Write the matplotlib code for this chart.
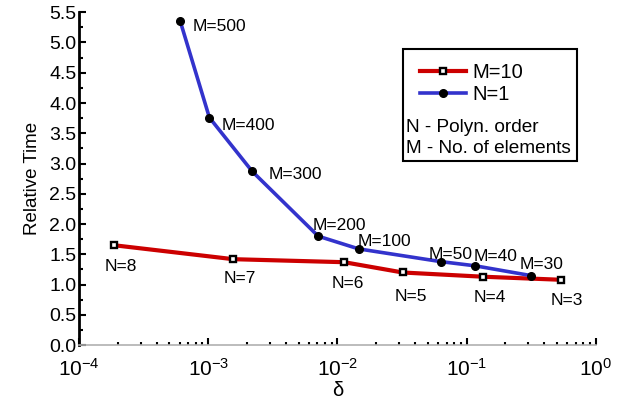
import numpy as np
import matplotlib.pyplot as plt
from matplotlib.patches import Rectangle
from matplotlib.ticker import LogLocator, MultipleLocator, NullFormatter

plt.rcParams['font.family'] = ['Liberation Sans', 'DejaVu Sans']
plt.rcParams['mathtext.fontset'] = 'custom'
plt.rcParams['mathtext.rm'] = 'Liberation Sans'
plt.rcParams['mathtext.it'] = 'Liberation Sans:italic'

# M=10 series, polynomial order N varies
delta_m10 = [1.87e-4, 1.56e-3, 1.13e-2, 3.2e-2, 0.135, 0.535]
time_m10 = [1.65, 1.42, 1.37, 1.20, 1.13, 1.08]
labels_m10 = ['N=8', 'N=7', 'N=6', 'N=5', 'N=4', 'N=3']

# N=1 series, number of elements M varies
delta_n1 = [6.07e-4, 1.02e-3, 2.19e-3, 7.1e-3, 1.46e-2, 6.3e-2, 0.117, 0.313]
time_n1 = [5.35, 3.76, 2.87, 1.80, 1.59, 1.38, 1.31, 1.15]
labels_n1 = ['M=500', 'M=400', 'M=300', 'M=200', 'M=100', 'M=50', 'M=40', 'M=30']

# label offsets in points (dx, dy)
off_m10 = [(-7, -15), (-7, -14), (-9, -15), (-6, -17), (-7, -15), (-7, -15)]
off_n1 = [(9, -4), (9, -6), (12, -2), (-4, 8), (-1, 5), (-9, 5), (-1, 7), (-8, 8)]

fig = plt.figure(figsize=(6.18, 4.07), dpi=100)
ax = fig.add_axes([0.128, 0.152, 0.836, 0.818])

ax.plot(delta_m10, time_m10, color='#cc0000', lw=3, marker='s', ms=5,
        mfc='white', mec='black', mew=1.7, label='M=10', zorder=3)
ax.plot(delta_n1, time_n1, color='#3333cc', lw=2.6, marker='o', ms=5.5,
        mfc='black', mec='black', label='N=1', zorder=3)

for x, y, s, o in zip(delta_m10, time_m10, labels_m10, off_m10):
    ax.annotate(s, (x, y), xytext=o, textcoords='offset points', fontsize=12.5,
                va='center', ha='left')
for x, y, s, o in zip(delta_n1, time_n1, labels_n1, off_n1):
    ax.annotate(s, (x, y), xytext=o, textcoords='offset points', fontsize=12.5,
                va='center', ha='left')

ax.set_xscale('log')
ax.set_xlim(1e-4, 1)
ax.set_ylim(0, 5.5)
ax.yaxis.set_major_locator(MultipleLocator(0.5))
ax.yaxis.set_minor_locator(MultipleLocator(0.25))
ax.xaxis.set_major_locator(LogLocator(base=10, numticks=10))
ax.xaxis.set_minor_locator(LogLocator(base=10, subs=np.arange(2, 10), numticks=10))
ax.xaxis.set_minor_formatter(NullFormatter())
ax.yaxis.set_major_formatter(plt.FormatStrFormatter('%.1f'))

ax.tick_params(axis='both', which='both', direction='in')
ax.tick_params(axis='y', which='major', length=5, width=1.5, pad=2, labelsize=14)
ax.tick_params(axis='y', which='minor', length=3, width=1.5)
ax.tick_params(axis='x', which='major', length=5, width=1.5, pad=9, labelsize=15)
ax.tick_params(axis='x', which='minor', length=2.5, width=1.5)

ax.spines['top'].set_visible(False)
ax.spines['right'].set_visible(False)
ax.spines['left'].set_linewidth(2)
ax.spines['bottom'].set_color('#b0b0b0')
ax.spines['bottom'].set_linewidth(1.2)

ax.set_xlabel('δ', fontsize=14.5, labelpad=1)
ax.set_ylabel('Relative Time', fontsize=13.5, labelpad=6)

ax.add_patch(Rectangle((0.627, 0.553), 0.336, 0.336, transform=ax.transAxes,
                       fill=False, edgecolor='black', lw=1.5, zorder=4))
ax.legend(loc='upper left', bbox_to_anchor=(0.66, 0.848), frameon=False,
          fontsize=14.5, handlelength=2.3, handletextpad=0.3, labelspacing=0.15,
          borderaxespad=0, borderpad=0)
ax.text(0.632, 0.655, 'N - Polyn. order', transform=ax.transAxes,
        fontsize=13.7, va='center')
ax.text(0.632, 0.592, 'M - No. of elements', transform=ax.transAxes,
        fontsize=13.7, va='center')

fig.savefig('out.png', dpi=100)
